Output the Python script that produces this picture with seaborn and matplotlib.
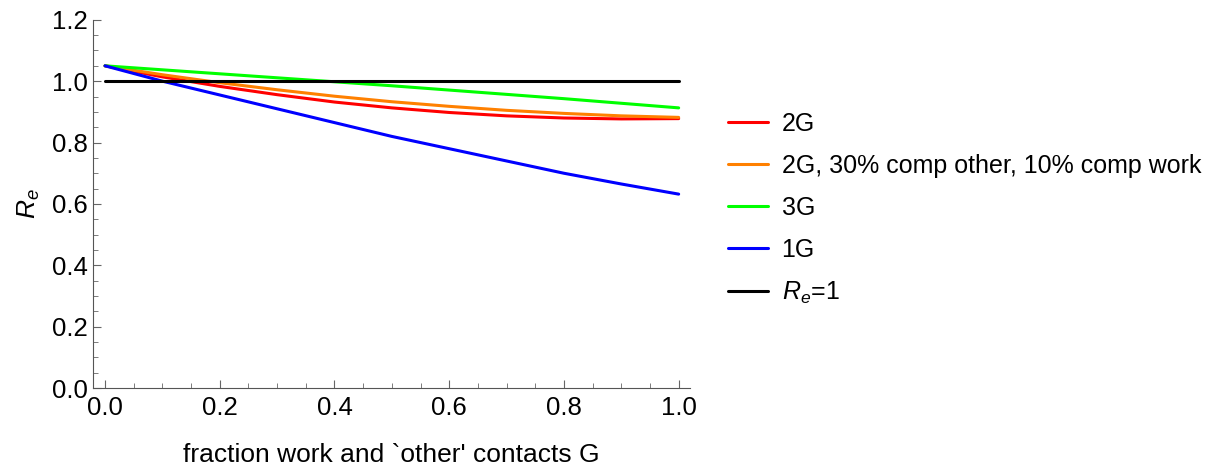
import numpy as np
import pandas as pd
import matplotlib
matplotlib.use("Agg")
import matplotlib.pyplot as plt
from matplotlib.ticker import MultipleLocator, FormatStrFormatter
import seaborn as sns

sns.set_style("white")
plt.rcParams['font.family'] = ['Liberation Sans', 'DejaVu Sans']
plt.rcParams['mathtext.fontset'] = 'custom'
plt.rcParams['mathtext.rm'] = 'Liberation Sans'
plt.rcParams['mathtext.it'] = 'Liberation Sans:italic'
plt.rcParams['text.color'] = 'black'
plt.rcParams['axes.labelcolor'] = 'black'
plt.rcParams['xtick.labelcolor'] = 'black'
plt.rcParams['ytick.labelcolor'] = 'black'

# values
G = [0.0, 0.1, 0.2, 0.3, 0.4, 0.5, 0.6, 0.7, 0.8, 0.9, 1.0]
re_2g = [1.05, 1.014, 0.983, 0.956, 0.932, 0.913, 0.898, 0.887, 0.880, 0.877, 0.878]
re_2g_comp = [1.05, 1.021, 0.995, 0.972, 0.951, 0.933, 0.918, 0.905, 0.895, 0.887, 0.882]
re_3g = [1.05, 1.037, 1.024, 1.011, 0.998, 0.985, 0.971, 0.957, 0.943, 0.928, 0.913]
re_1g = [1.05, 1.0, 0.955, 0.91, 0.865, 0.82, 0.78, 0.74, 0.70, 0.665, 0.632]
re_one = [1.0] * len(G)

labels = ["2G", "2G, 30% comp other, 10% comp work", "3G", "1G", "$R_e$=1"]
colors = ["#ff0000", "#ff8000", "#00ff00", "#0000ff", "#000000"]
series = [re_2g, re_2g_comp, re_3g, re_1g, re_one]

df = pd.concat([pd.DataFrame({"G": G, "Re": s, "curve": lab})
                for lab, s in zip(labels, series)], ignore_index=True)

fig = plt.figure(figsize=(12.14, 4.71), dpi=100)
ax = fig.add_axes([0.0766, 0.176, 0.4914, 0.782])
sns.lineplot(data=df, x="G", y="Re", hue="curve", hue_order=labels,
             palette=colors, linewidth=2.2, ax=ax, sort=False)

ax.set_xlim(-0.021, 1.019)
ax.set_ylim(0, 1.2)
ax.xaxis.set_major_locator(MultipleLocator(0.2))
ax.xaxis.set_minor_locator(MultipleLocator(0.05))
ax.yaxis.set_major_locator(MultipleLocator(0.2))
ax.yaxis.set_minor_locator(MultipleLocator(0.05))
ax.xaxis.set_major_formatter(FormatStrFormatter('%.1f'))
ax.yaxis.set_major_formatter(FormatStrFormatter('%.1f'))
ax.tick_params(which='major', direction='in', length=6, width=0.8, color='#666666',
               labelsize=18.5)
ax.tick_params(which='minor', direction='in', length=3.5, width=0.6, color='#666666')
ax.tick_params(axis='x', bottom=True, which='both', pad=6)
ax.tick_params(axis='y', left=True, which='both', pad=4)
for side in ['top', 'right']:
    ax.spines[side].set_visible(False)
for side in ['left', 'bottom']:
    ax.spines[side].set_color('#555555')
    ax.spines[side].set_linewidth(0.8)

ax.set_xlabel("fraction work and `other' contacts G", fontsize=19, labelpad=16)
ax.set_ylabel("$R_e$", fontsize=19, labelpad=7)

ax.legend(frameon=False, fontsize=18, loc='center left',
          bbox_to_anchor=(0.5995, 0.556), bbox_transform=fig.transFigure,
          borderpad=0, borderaxespad=0,
          handlelength=1.6, handletextpad=0.55, labelspacing=0.72)

fig.savefig("out.png", dpi=100)
